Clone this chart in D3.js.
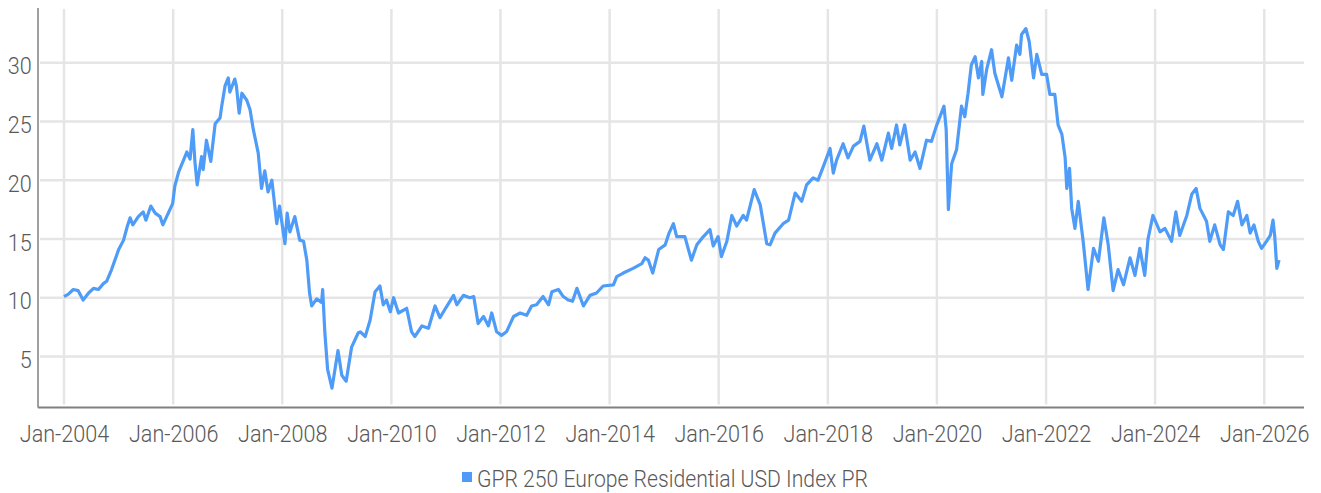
<!DOCTYPE html>
<html>
<head>
<meta charset="utf-8">
<script src="https://cdn.jsdelivr.net/npm/d3@7"></script>
<style>
  body { margin: 0; background: #fff; }
  svg { display: block; }
  .lbl { font-family: Roboto, "Noto Sans", sans-serif; font-weight: 300; font-size: 24px; fill: #595959; }
</style>
</head>
<body>
<script>
// series, decimal year -> index level
var obsYear = [
  2004.00, 2004.08, 2004.17, 2004.26, 2004.35, 2004.45, 2004.54, 2004.63, 2004.72, 2004.78,
  2004.87, 2005.00, 2005.09, 2005.16, 2005.21, 2005.26, 2005.36, 2005.45, 2005.50, 2005.59,
  2005.67, 2005.76, 2005.81, 2005.91, 2005.99, 2006.03, 2006.10, 2006.19, 2006.25, 2006.31,
  2006.36, 2006.40, 2006.44, 2006.52, 2006.55, 2006.61, 2006.69, 2006.77, 2006.86, 2006.89,
  2006.95, 2007.01, 2007.04, 2007.13, 2007.16, 2007.21, 2007.26, 2007.35, 2007.41, 2007.47,
  2007.56, 2007.62, 2007.68, 2007.74, 2007.81, 2007.90, 2007.95, 2008.05, 2008.09, 2008.14,
  2008.23, 2008.32, 2008.39, 2008.45, 2008.50, 2008.54, 2008.63, 2008.72, 2008.74, 2008.78,
  2008.83, 2008.91, 2009.02, 2009.09, 2009.17, 2009.27, 2009.39, 2009.43, 2009.52, 2009.61,
  2009.70, 2009.79, 2009.85, 2009.91, 2009.98, 2010.04, 2010.13, 2010.28, 2010.37, 2010.43,
  2010.56, 2010.68, 2010.80, 2010.89, 2010.98, 2011.14, 2011.20, 2011.32, 2011.44, 2011.51,
  2011.59, 2011.69, 2011.78, 2011.84, 2011.93, 2012.02, 2012.11, 2012.24, 2012.36, 2012.48,
  2012.57, 2012.66, 2012.78, 2012.88, 2012.94, 2013.06, 2013.15, 2013.24, 2013.32, 2013.40,
  2013.52, 2013.64, 2013.76, 2013.88, 2014.07, 2014.13, 2014.25, 2014.43, 2014.59, 2014.65,
  2014.71, 2014.79, 2014.90, 2015.02, 2015.09, 2015.17, 2015.23, 2015.38, 2015.50, 2015.60,
  2015.72, 2015.84, 2015.90, 2015.99, 2016.05, 2016.15, 2016.24, 2016.33, 2016.45, 2016.51,
  2016.65, 2016.76, 2016.88, 2016.94, 2017.03, 2017.18, 2017.28, 2017.40, 2017.52, 2017.61,
  2017.73, 2017.82, 2017.92, 2018.04, 2018.10, 2018.16, 2018.28, 2018.37, 2018.47, 2018.59,
  2018.66, 2018.77, 2018.90, 2018.99, 2019.11, 2019.17, 2019.26, 2019.32, 2019.41, 2019.51,
  2019.60, 2019.69, 2019.81, 2019.90, 2019.99, 2020.13, 2020.17, 2020.21, 2020.27, 2020.36,
  2020.45, 2020.51, 2020.57, 2020.63, 2020.70, 2020.76, 2020.82, 2020.84, 2020.91, 2021.00,
  2021.06, 2021.19, 2021.31, 2021.37, 2021.46, 2021.52, 2021.55, 2021.63, 2021.69, 2021.77,
  2021.83, 2021.92, 2022.01, 2022.07, 2022.16, 2022.22, 2022.29, 2022.35, 2022.38, 2022.43,
  2022.47, 2022.53, 2022.59, 2022.68, 2022.77, 2022.87, 2022.96, 2023.06, 2023.14, 2023.23,
  2023.32, 2023.42, 2023.54, 2023.63, 2023.72, 2023.81, 2023.87, 2023.96, 2024.09, 2024.18,
  2024.30, 2024.38, 2024.45, 2024.58, 2024.67, 2024.75, 2024.82, 2024.94, 2025.00, 2025.09,
  2025.19, 2025.25, 2025.34, 2025.43, 2025.51, 2025.59, 2025.68, 2025.74, 2025.81, 2025.89,
  2025.95, 2026.04, 2026.11, 2026.16, 2026.19, 2026.23, 2026.27
];
var indexValue = [
  10.1, 10.3, 10.7, 10.6, 9.8, 10.4, 10.8, 10.7, 11.2, 11.4,
  12.4, 14.1, 14.9, 16.1, 16.8, 16.2, 16.9, 17.3, 16.6, 17.8,
  17.2, 16.9, 16.2, 17.2, 18.0, 19.5, 20.7, 21.7, 22.4, 21.8,
  24.3, 21.5, 19.6, 22.0, 20.9, 23.4, 21.6, 24.8, 25.3, 26.3,
  28.0, 28.7, 27.5, 28.6, 28.0, 25.7, 27.4, 26.8, 26.0, 24.3,
  22.3, 19.3, 20.8, 19.0, 20.0, 16.3, 17.8, 14.6, 17.2, 15.6,
  16.9, 14.9, 14.8, 13.2, 10.4, 9.3, 9.9, 9.6, 10.7, 7.0,
  3.9, 2.3, 5.5, 3.4, 2.9, 5.8, 7.0, 7.1, 6.7, 8.1,
  10.5, 11.0, 9.4, 9.8, 8.8, 10.0, 8.7, 9.1, 7.1, 6.7,
  7.6, 7.4, 9.3, 8.3, 9.0, 10.2, 9.4, 10.2, 10.0, 10.1,
  7.8, 8.4, 7.6, 8.7, 7.1, 6.8, 7.1, 8.4, 8.7, 8.5,
  9.3, 9.4, 10.1, 9.4, 10.5, 10.7, 10.1, 9.8, 9.7, 10.8,
  9.3, 10.2, 10.4, 11.0, 11.1, 11.8, 12.1, 12.5, 12.9, 13.4,
  13.2, 12.1, 14.1, 14.5, 15.5, 16.3, 15.2, 15.2, 13.2, 14.5,
  15.2, 15.8, 14.4, 15.2, 13.5, 14.8, 17.0, 16.1, 17.0, 16.6,
  19.2, 17.9, 14.6, 14.5, 15.5, 16.3, 16.6, 18.9, 18.2, 19.6,
  20.2, 20.0, 21.2, 22.7, 20.6, 21.7, 23.1, 21.9, 22.9, 23.3,
  24.6, 21.7, 23.1, 21.7, 24.0, 22.7, 24.7, 23.0, 24.7, 21.7,
  22.4, 21.0, 23.4, 23.3, 24.6, 26.3, 24.3, 17.5, 21.4, 22.6,
  26.3, 25.4, 27.4, 29.8, 30.5, 28.7, 30.1, 27.3, 29.4, 31.1,
  29.1, 27.1, 30.4, 28.5, 31.5, 30.7, 32.4, 32.9, 31.8, 28.7,
  30.7, 29.0, 29.0, 27.3, 27.3, 24.7, 23.9, 21.9, 19.3, 21.0,
  17.6, 15.9, 18.2, 14.8, 10.7, 14.2, 13.1, 16.8, 14.5, 10.6,
  12.4, 11.1, 13.4, 11.9, 14.2, 11.9, 15.0, 17.0, 15.6, 15.9,
  14.8, 17.3, 15.3, 17.0, 18.8, 19.3, 17.6, 16.5, 14.8, 16.2,
  14.5, 14.1, 17.3, 17.0, 18.2, 16.2, 17.0, 15.5, 16.2, 14.8,
  14.2, 14.8, 15.3, 16.6, 15.3, 12.5, 13.2
];
var tickYears = [2004, 2006, 2008, 2010, 2012, 2014, 2016, 2018, 2020, 2022, 2024, 2026];
var yTicks = [5, 10, 15, 20, 25, 30];
var seriesName = "GPR 250 Europe Residential USD Index PR";

var width = 1321,
    height = 493,
    plotLeft = 38,
    plotRight = 1304,
    plotTop = 8,
    plotBottom = 407.5,
    lineColor = "#4f9cf8";

function yearToDate(y) {
    var yr = Math.floor(y),
        start = Date.UTC(yr, 0, 1),
        end = Date.UTC(yr + 1, 0, 1);
    return new Date(start + (y - yr) * (end - start));
}

var data = obsYear.map(function(y, i) {
    return {date: yearToDate(y), value: indexValue[i]};
});

// place Jan-2004 and Jan-2026 where the reference has them, then widen to the plot box
var x = d3.scaleUtc()
    .domain([yearToDate(2004), yearToDate(2026)])
    .range([64, 1264.3]);
x.domain([x.invert(plotLeft), x.invert(plotRight)]).range([plotLeft, plotRight]);

var y = d3.scaleLinear()
    .domain([0.66, 34.65])
    .range([plotBottom, plotTop]);

var svg = d3.select("body").append("svg")
    .attr("width", width)
    .attr("height", height);

var tickDates = tickYears.map(yearToDate);

// grid
svg.append("g")
    .selectAll("line")
    .data(yTicks)
    .enter().append("line")
    .attr("x1", plotLeft + 2)
    .attr("x2", plotRight)
    .attr("y1", function(d) { return y(d); })
    .attr("y2", function(d) { return y(d); })
    .attr("stroke", "#e5e5e5")
    .attr("stroke-width", 2.5);

svg.append("g")
    .selectAll("line")
    .data(tickDates)
    .enter().append("line")
    .attr("x1", function(d) { return x(d); })
    .attr("x2", function(d) { return x(d); })
    .attr("y1", plotTop + 1)
    .attr("y2", plotBottom - 3)
    .attr("stroke", "#e5e5e5")
    .attr("stroke-width", 2.5);

// series
svg.append("path")
    .datum(data)
    .attr("fill", "none")
    .attr("stroke", lineColor)
    .attr("stroke-width", 3.2)
    .attr("stroke-linejoin", "round")
    .attr("d", d3.line()
        .x(function(d) { return x(d.date); })
        .y(function(d) { return y(d.value); }));

// axes
var xAxis = svg.append("g")
    .attr("transform", "translate(0," + plotBottom + ")")
    .call(d3.axisBottom(x)
        .tickValues(tickDates)
        .tickSize(0)
        .tickPadding(17)
        .tickFormat(d3.utcFormat("Jan-%Y")));

var yAxis = svg.append("g")
    .attr("transform", "translate(" + plotLeft + ",0)")
    .call(d3.axisLeft(y)
        .tickValues(yTicks)
        .tickSize(0)
        .tickPadding(7)
        .tickFormat(d3.format("d")));

[xAxis, yAxis].forEach(function(g) {
    g.select(".domain").remove();
    g.selectAll("text")
        .attr("class", "lbl")
        .attr("font-family", null)
        .attr("font-size", null)
        .attr("fill", null)
        .attr("transform", "scale(0.9,1)");
});
yAxis.selectAll("text").attr("dy", "0.46em");

svg.append("line")
    .attr("x1", plotLeft)
    .attr("x2", plotLeft)
    .attr("y1", plotTop)
    .attr("y2", plotBottom)
    .attr("stroke", "#808080")
    .attr("stroke-width", 1.5);

svg.append("line")
    .attr("x1", plotLeft)
    .attr("x2", plotRight)
    .attr("y1", plotBottom)
    .attr("y2", plotBottom)
    .attr("stroke", "#808080")
    .attr("stroke-width", 2);

// legend
var legend = svg.append("g")
    .attr("transform", "translate(462,472)");

legend.append("rect")
    .attr("width", 10)
    .attr("height", 10)
    .attr("fill", lineColor);

legend.append("text")
    .attr("class", "lbl")
    .attr("x", 15)
    .attr("y", 14.5)
    .attr("textLength", 391)
    .attr("lengthAdjust", "spacingAndGlyphs")
    .text(seriesName);
</script>
</body>
</html>
